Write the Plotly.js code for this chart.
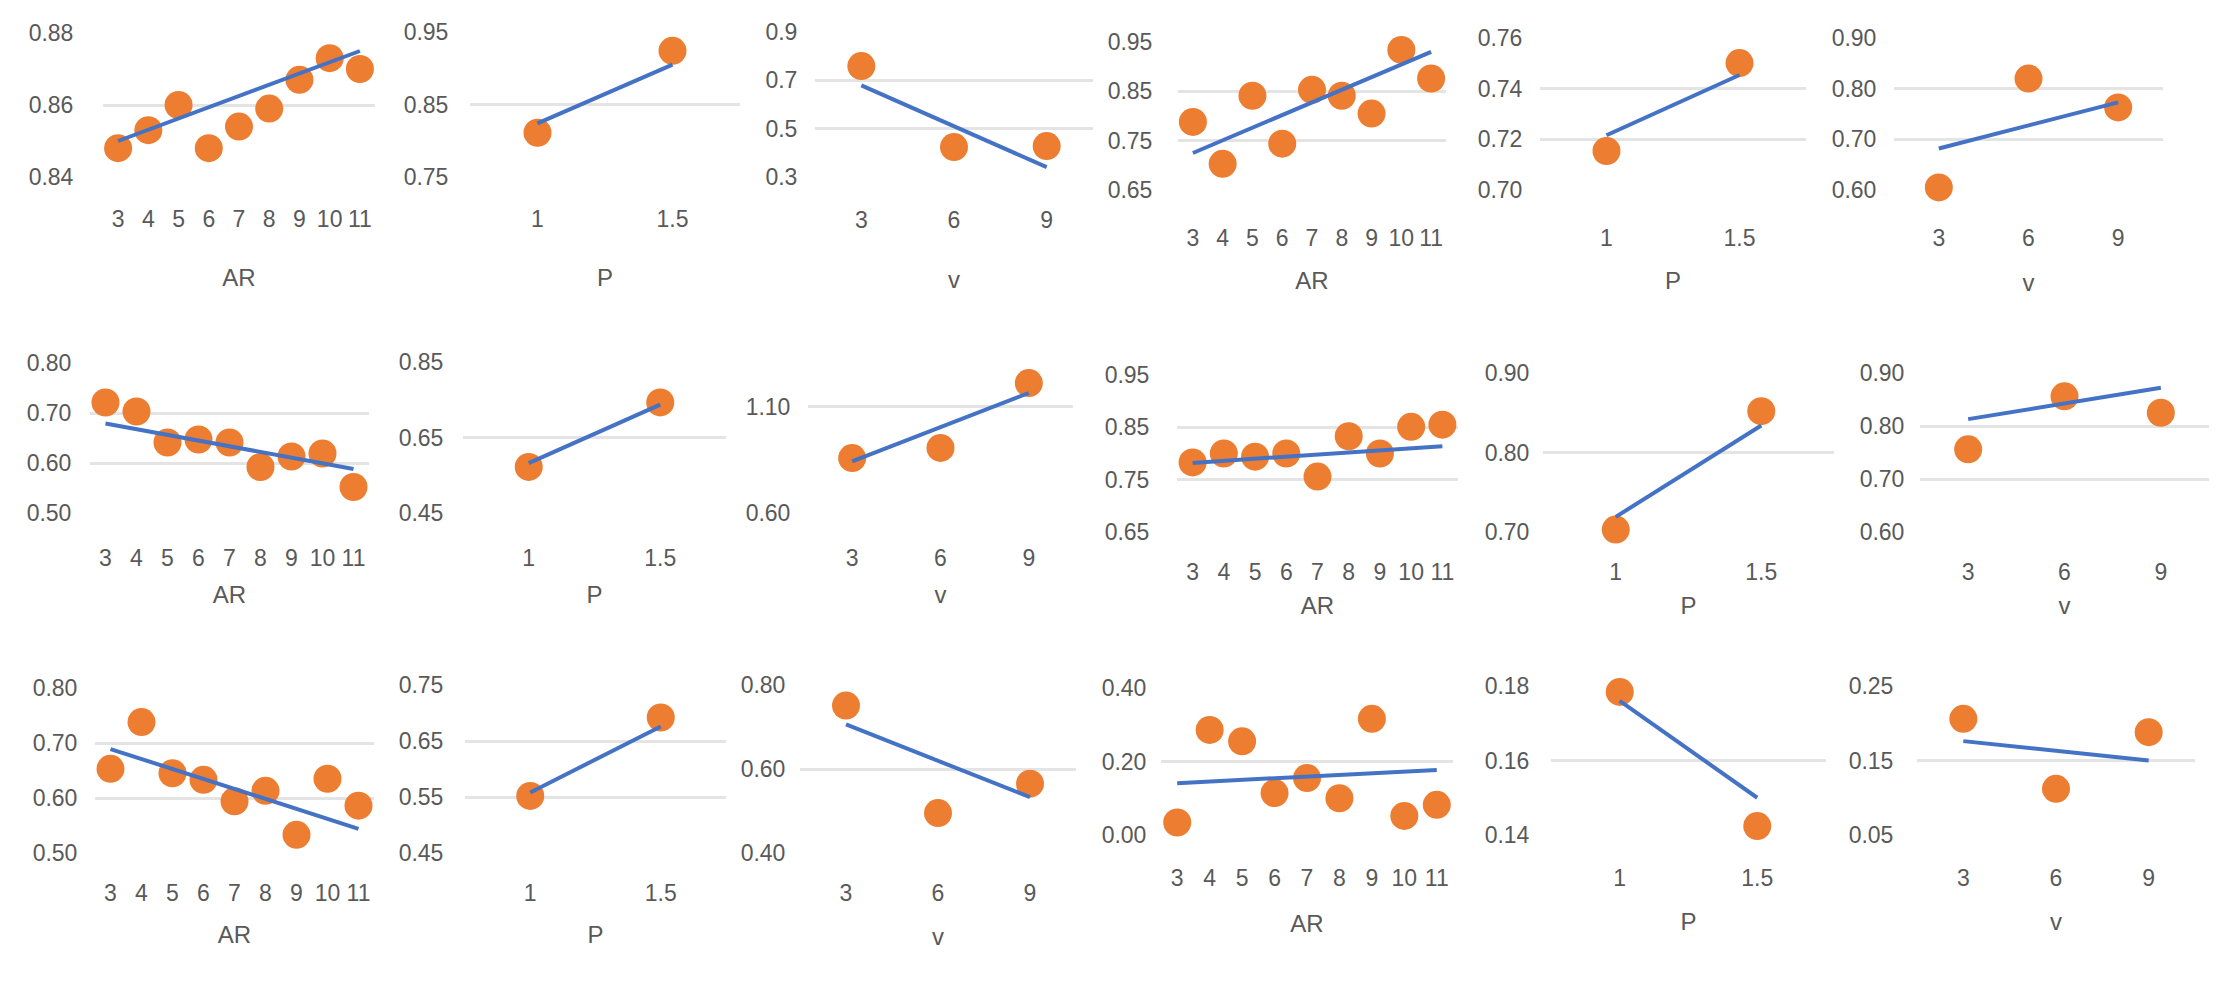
<!DOCTYPE html>
<html><head><meta charset="utf-8">
<script src="https://cdn.plot.ly/plotly-3.0.1.min.js"></script>
<style>html,body{margin:0;padding:0;background:#fff}#chart{width:2232px;height:983px}</style>
</head><body><div id="chart"></div>
<script>
// ---- categories ----
const arCats = ['3','4','5','6','7','8','9','10','11'];
const pCats = ['1','1.5'];
const vCats = ['3','6','9'];

// ---- row 1 ----
const r1AR = [0.848,0.853,0.860,0.848,0.854,0.859,0.867,0.873,0.870];
const r1ARTrend = [0.850,0.875];
const r1P = [0.811,0.924];
const r1PTrend = [0.824,0.905];
const r1V = [0.759,0.424,0.428];
const r1VTrend = [0.679,0.341];
const r1AR2 = [0.788,0.703,0.841,0.744,0.853,0.841,0.805,0.934,0.876];
const r1AR2Trend = [0.725,0.930];
const r1P2 = [0.7154,0.7501];
const r1P2Trend = [0.7216,0.7454];
const r1V2 = [0.605,0.820,0.763];
const r1V2Trend = [0.682,0.773];

// ---- row 2 ----
const r2AR = [0.721,0.703,0.641,0.647,0.641,0.592,0.613,0.619,0.552];
const r2ARTrend = [0.679,0.588];
const r2P = [0.572,0.743];
const r2PTrend = [0.582,0.737];
const r2V = [0.859,0.907,1.213];
const r2VTrend = [0.844,1.166];
const r2AR2 = [0.783,0.800,0.794,0.800,0.756,0.833,0.800,0.851,0.855];
const r2AR2Trend = [0.782,0.814];
const r2P2 = [0.703,0.852];
const r2P2Trend = [0.719,0.834];
const r2V2 = [0.756,0.856,0.825];
const r2V2Trend = [0.813,0.872];

// ---- row 3 ----
const r3AR = [0.653,0.738,0.645,0.633,0.594,0.613,0.533,0.635,0.586];
const r3ARTrend = [0.689,0.544];
const r3P = [0.552,0.692];
const r3PTrend = [0.558,0.676];
const r3V = [0.751,0.495,0.565];
const r3VTrend = [0.706,0.533];
const r3AR2 = [0.034,0.286,0.255,0.114,0.155,0.100,0.316,0.052,0.082];
const r3AR2Trend = [0.141,0.177];
const r3P2 = [0.1784,0.1424];
const r3P2Trend = [0.176,0.150];
const r3V2 = [0.206,0.112,0.188];
const r3V2Trend = [0.176,0.150];

// ---- axis ticks ----
const t1 = [0.84,0.86,0.88], t2 = [0.75,0.85,0.95], t3 = [0.3,0.5,0.7,0.9];
const t4 = [0.65,0.75,0.85,0.95], t5 = [0.70,0.72,0.74,0.76], t6 = [0.60,0.70,0.80,0.90];
const t7 = [0.50,0.60,0.70,0.80], t8 = [0.45,0.65,0.85], t9 = [0.60,1.10];
const t10 = [0.65,0.75,0.85,0.95], t11 = [0.70,0.80,0.90], t12 = [0.60,0.70,0.80,0.90];
const t13 = [0.50,0.60,0.70,0.80], t14 = [0.45,0.55,0.65,0.75], t15 = [0.40,0.60,0.80];
const t16 = [0.00,0.20,0.40], t17 = [0.14,0.16,0.18], t18 = [0.05,0.15,0.25];
const titleAR = 'AR', titleP = 'P', titleV = 'v';

// ---- panel layout (pixels: x0, x1, yTop, yBottom) ----
const panels = [
  {c:arCats,y:r1AR,t:r1ARTrend,box:[103,375,33,177],r:[0.84,0.88],tv:t1,f:'.2f',ti:titleAR,yg:24,xg:21,sg:38},
  {c:pCats,y:r1P,t:r1PTrend,box:[470,740,32,177],r:[0.75,0.95],tv:t2,f:'.2f',ti:titleP,yg:16,xg:21,sg:38},
  {c:vCats,y:r1V,t:r1VTrend,box:[815,1093,32,177],r:[0.3,0.9],tv:t3,f:'.1f',ti:titleV,yg:12,xg:22,sg:39},
  {c:arCats,y:r1AR2,t:r1AR2Trend,box:[1178,1446,42,190],r:[0.65,0.95],tv:t4,f:'.2f',ti:titleAR,yg:20,xg:27,sg:22},
  {c:pCats,y:r1P2,t:r1P2Trend,box:[1540,1806,38,190],r:[0.70,0.76],tv:t5,f:'.2f',ti:titleP,yg:12,xg:27,sg:22},
  {c:vCats,y:r1V2,t:r1V2Trend,box:[1894,2163,38,190],r:[0.60,0.90],tv:t6,f:'.2f',ti:titleV,yg:12,xg:27,sg:24},
  {c:arCats,y:r2AR,t:r2ARTrend,box:[90,369,363,513],r:[0.50,0.80],tv:t7,f:'.2f',ti:titleAR,yg:13,xg:24,sg:16},
  {c:pCats,y:r2P,t:r2PTrend,box:[463,726,362,513],r:[0.45,0.85],tv:t8,f:'.2f',ti:titleP,yg:14,xg:24,sg:16},
  {c:vCats,y:r2V,t:r2VTrend,box:[808,1073,363,513],r:[0.60,1.3075],tv:t9,f:'.2f',ti:titleV,yg:12,xg:24,sg:16},
  {c:arCats,y:r2AR2,t:r2AR2Trend,box:[1177,1458,375,532],r:[0.65,0.95],tv:t10,f:'.2f',ti:titleAR,yg:22,xg:19,sg:13},
  {c:pCats,y:r2P2,t:r2P2Trend,box:[1543,1834,373,532],r:[0.70,0.90],tv:t11,f:'.2f',ti:titleP,yg:8,xg:19,sg:13},
  {c:vCats,y:r2V2,t:r2V2Trend,box:[1920,2209,373,532],r:[0.60,0.90],tv:t12,f:'.2f',ti:titleV,yg:10,xg:19,sg:13},
  {c:arCats,y:r3AR,t:r3ARTrend,box:[95,374,688,853],r:[0.50,0.80],tv:t13,f:'.2f',ti:titleAR,yg:12,xg:19,sg:21},
  {c:pCats,y:r3P,t:r3PTrend,box:[465,726,685,853],r:[0.45,0.75],tv:t14,f:'.2f',ti:titleP,yg:16,xg:19,sg:21},
  {c:vCats,y:r3V,t:r3VTrend,box:[800,1076,685,853],r:[0.40,0.80],tv:t15,f:'.2f',ti:titleV,yg:9,xg:19,sg:23},
  {c:arCats,y:r3AR2,t:r3AR2Trend,box:[1161,1453,688,835],r:[0.00,0.40],tv:t16,f:'.2f',ti:titleAR,yg:9,xg:22,sg:25},
  {c:pCats,y:r3P2,t:r3P2Trend,box:[1551,1826,686,835],r:[0.14,0.18],tv:t17,f:'.2f',ti:titleP,yg:16,xg:22,sg:23},
  {c:vCats,y:r3V2,t:r3V2Trend,box:[1917,2195,686,835],r:[0.05,0.25],tv:t18,f:'.2f',ti:titleV,yg:18,xg:22,sg:23}
];

const W = 2232, H = 983;
const FONT = 'Liberation Sans, Arial, sans-serif';
const TXT = '#595959';
const traces = [];
const layout = {
  width: W, height: H, margin: {l:0,r:0,t:0,b:0},
  paper_bgcolor: '#ffffff', plot_bgcolor: '#ffffff',
  showlegend: false, font: {family: FONT, color: TXT, size: 23}
};

panels.forEach((p, i) => {
  const n = i + 1;
  const xa = 'x' + (n === 1 ? '' : n), ya = 'y' + (n === 1 ? '' : n);
  traces.push({
    type: 'scatter', mode: 'markers', x: p.c, y: p.y, xaxis: xa, yaxis: ya, cliponaxis: false,
    marker: {color: '#ED7D31', size: 28, line: {width: 0}}, hoverinfo: 'x+y'
  });
  traces.push({
    type: 'scatter', mode: 'lines', x: [p.c[0], p.c[p.c.length - 1]], y: p.t, xaxis: xa, yaxis: ya, cliponaxis: false,
    line: {color: '#4472C4', width: 4}, hoverinfo: 'skip'
  });
  const [x0, x1, yt, yb] = p.box;
  layout['xaxis' + (n === 1 ? '' : n)] = {
    domain: [x0 / W, x1 / W], anchor: ya, type: 'category',
    range: [-0.5, p.c.length - 0.5], autorange: false,
    showgrid: false, zeroline: false, showline: false,
    ticks: 'outside', ticklen: p.xg, tickcolor: 'rgba(0,0,0,0)',
    tickfont: {family: FONT, size: 23, color: TXT},
    title: {text: p.ti, font: {family: FONT, size: 24, color: TXT}, standoff: p.sg},
    automargin: false, fixedrange: true
  };
  layout['yaxis' + (n === 1 ? '' : n)] = {
    domain: [1 - yb / H, 1 - yt / H], anchor: xa,
    range: p.r, autorange: false, tickvals: p.tv, tickformat: p.f,
    showgrid: true, gridcolor: '#e4e4e4', gridwidth: 3,
    zeroline: false, showline: false,
    ticks: 'outside', ticklen: p.yg, tickcolor: 'rgba(0,0,0,0)',
    tickfont: {family: FONT, size: 23, color: TXT},
    automargin: false, fixedrange: true
  };
});

Plotly.newPlot('chart', traces, layout, {displayModeBar: false, staticPlot: true});
</script>
</body></html>
